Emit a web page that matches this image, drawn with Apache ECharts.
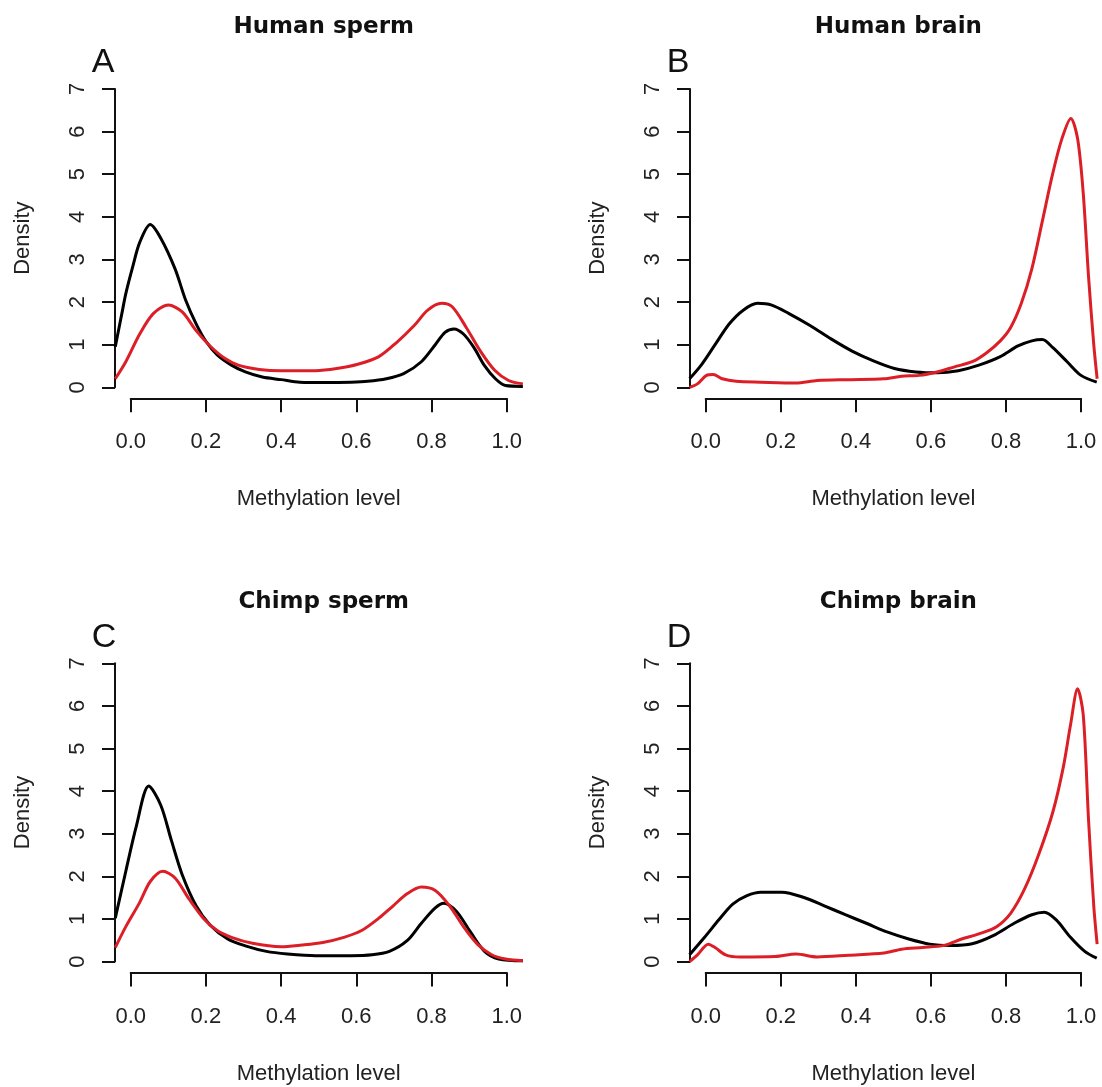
<!DOCTYPE html>
<html>
<head>
<meta charset="utf-8">
<script src="https://cdn.jsdelivr.net/npm/echarts@6/dist/echarts.min.js"></script>
<style>
html,body{margin:0;padding:0;background:#fff;}
#chart{width:1102px;height:1087px;}
</style>
</head>
<body>
<div id="chart"></div>
<script>
// ---- Data ----
const panelTitles = ['Human sperm', 'Human brain', 'Chimp sperm', 'Chimp brain'];
const panelLetters = ['A', 'B', 'C', 'D'];
const xTicks = [0, 0.2, 0.4, 0.6, 0.8, 1.0];
const yTicks = [0, 1, 2, 3, 4, 5, 6, 7];
const xDataRange = [-0.045, 1.045];

// Panel A: Human sperm
const aBlackX = [-0.041,-0.022,-0.013,0.006,0.024,0.052,0.08,0.118,0.146,0.174,0.2,0.23,0.268,0.305,0.35,0.4,0.45,0.52,0.586,0.63,0.68,0.726,0.773,0.81,0.836,0.86,0.885,0.913,0.94,0.97,0.997,1.043];
const aBlackY = [0.95,1.8,2.2,2.85,3.4,3.82,3.5,2.78,2.05,1.49,1.08,0.76,0.52,0.36,0.24,0.18,0.12,0.11,0.12,0.14,0.2,0.32,0.6,1.0,1.29,1.37,1.25,0.93,0.52,0.2,0.04,0.02];
const aRedX = [-0.041,-0.013,0.024,0.06,0.1,0.137,0.174,0.211,0.25,0.286,0.342,0.4,0.492,0.548,0.604,0.66,0.707,0.754,0.79,0.827,0.855,0.892,0.93,0.968,1.005,1.043];
const aRedY = [0.2,0.6,1.25,1.73,1.93,1.77,1.33,0.97,0.68,0.52,0.42,0.39,0.39,0.44,0.54,0.72,1.05,1.45,1.81,1.97,1.89,1.41,0.85,0.4,0.16,0.08];

// Panel B: Human brain
const bBlackX = [-0.043,-0.012,0.025,0.063,0.1,0.138,0.176,0.222,0.278,0.335,0.39,0.447,0.503,0.56,0.617,0.673,0.728,0.785,0.832,0.869,0.897,0.925,0.963,1.0,1.042];
const bBlackY = [0.2,0.52,1.0,1.49,1.81,1.97,1.93,1.73,1.45,1.13,0.85,0.62,0.44,0.36,0.34,0.39,0.52,0.72,0.97,1.09,1.12,0.93,0.6,0.28,0.12];
const bRedX = [-0.043,-0.022,0.002,0.02,0.044,0.081,0.147,0.24,0.297,0.381,0.475,0.522,0.569,0.616,0.663,0.71,0.747,0.785,0.813,0.841,0.869,0.897,0.925,0.949,0.973,0.991,1.006,1.02,1.034,1.043];
const bRedY = [0.0,0.08,0.28,0.3,0.2,0.14,0.12,0.1,0.16,0.18,0.2,0.26,0.28,0.36,0.48,0.6,0.8,1.09,1.41,1.97,2.78,3.9,5.03,5.83,6.31,5.83,4.55,2.61,1.0,0.2];

// Panel C: Chimp sperm
const cBlackX = [-0.041,-0.013,0.015,0.048,0.08,0.108,0.137,0.174,0.211,0.258,0.305,0.361,0.417,0.492,0.586,0.642,0.688,0.735,0.773,0.81,0.833,0.866,0.904,0.941,0.979,1.043];
const cBlackY = [1.02,2.12,3.18,4.12,3.67,2.85,2.04,1.31,0.86,0.53,0.37,0.24,0.18,0.14,0.14,0.16,0.24,0.49,0.9,1.26,1.37,1.18,0.69,0.24,0.06,0.02];
const cRedX = [-0.041,-0.013,0.024,0.052,0.085,0.118,0.155,0.193,0.23,0.268,0.324,0.4,0.455,0.511,0.567,0.614,0.66,0.698,0.735,0.773,0.81,0.848,0.885,0.922,0.96,0.997,1.043];
const cRedY = [0.33,0.82,1.39,1.88,2.12,1.96,1.47,1.02,0.73,0.57,0.43,0.35,0.39,0.45,0.57,0.73,1.02,1.31,1.59,1.75,1.67,1.31,0.82,0.41,0.16,0.06,0.02];

// Panel D: Chimp brain
const dBlackX = [-0.043,-0.003,0.035,0.072,0.11,0.147,0.203,0.26,0.316,0.372,0.428,0.485,0.541,0.597,0.653,0.71,0.766,0.822,0.869,0.902,0.934,0.972,1.01,1.042];
const dBlackY = [0.16,0.57,0.98,1.35,1.55,1.63,1.63,1.51,1.31,1.1,0.9,0.69,0.53,0.41,0.38,0.42,0.61,0.9,1.1,1.16,0.98,0.57,0.24,0.08];
const dRedX = [-0.043,-0.022,0.007,0.025,0.053,0.091,0.185,0.241,0.297,0.381,0.475,0.522,0.578,0.635,0.682,0.728,0.775,0.813,0.85,0.888,0.925,0.953,0.972,0.991,1.006,1.02,1.034,1.043];
const dRedY = [0.0,0.16,0.41,0.33,0.16,0.11,0.12,0.18,0.11,0.15,0.2,0.29,0.33,0.38,0.53,0.65,0.82,1.14,1.71,2.53,3.51,4.57,5.55,6.4,5.79,3.34,1.31,0.41];

const blackX = [aBlackX, bBlackX, cBlackX, dBlackX];
const blackY = [aBlackY, bBlackY, cBlackY, dBlackY];
const redX = [aRedX, bRedX, cRedX, dRedX];
const redY = [aRedY, bRedY, cRedY, dRedY];

// ---- Layout ----
const colLeft = [130.7, 705.7];   // pixel of x = 0
const colWidth = [376, 375.3];    // pixels per unit x
const rowTop = [89, 663.3];       // pixel of y = 7
const plotH = 298.3;              // pixels for 0..7
const FONT = '"Liberation Sans", Arial, sans-serif';
const RED = '#dc1f26';

function pairs(xs, ys) { return xs.map((x, i) => [x, ys[i]]); }

const grids = [], xAxes = [], yAxes = [], series = [], titles = [];
for (let p = 0; p < 4; p++) {
  const col = p % 2, row = Math.floor(p / 2);
  const L = colLeft[col], W = colWidth[col], T = rowTop[row];
  // grid 2p : axes drawn R-style (span only 0..1 and 0..7)
  grids.push({ left: L, top: T, width: W, height: plotH });
  // grid 2p+1 : data region, extended in x to hold the full density range
  grids.push({ left: L + xDataRange[0] * W, top: T, width: (xDataRange[1] - xDataRange[0]) * W, height: plotH });

  xAxes.push({
    gridIndex: 2 * p, type: 'value', min: xTicks[0], max: xTicks[xTicks.length - 1], interval: 0.2,
    offset: 11,
    axisLine: { show: true, onZero: false, lineStyle: { color: '#111', width: 2 } },
    axisTick: { show: true, length: 14, lineStyle: { color: '#111', width: 2 } },
    axisLabel: { fontSize: 22, fontFamily: FONT, color: '#222', margin: 33, formatter: v => v.toFixed(1) },
    splitLine: { show: false },
    name: 'Methylation level', nameLocation: 'middle', nameGap: 90,
    nameTextStyle: { fontSize: 22, fontFamily: FONT, color: '#222' }
  });
  yAxes.push({
    gridIndex: 2 * p, type: 'value', min: yTicks[0], max: yTicks[yTicks.length - 1], interval: 1,
    offset: 15.7,
    axisLine: { show: true, onZero: false, lineStyle: { color: '#111', width: 2 } },
    axisTick: { show: true, length: 13, lineStyle: { color: '#111', width: 2 } },
    axisLabel: { fontSize: 22, fontFamily: FONT, color: '#222', margin: 26, rotate: 90 },
    splitLine: { show: false },
    name: 'Density', nameLocation: 'middle', nameGap: 81, nameRotate: 90,
    nameTextStyle: { fontSize: 22, fontFamily: FONT, color: '#222' }
  });
  xAxes.push({ gridIndex: 2 * p + 1, type: 'value', min: xDataRange[0], max: xDataRange[1], show: false, splitLine: { show: false } });
  yAxes.push({ gridIndex: 2 * p + 1, type: 'value', min: yTicks[0], max: yTicks[yTicks.length - 1], show: false, splitLine: { show: false } });

  series.push({
    type: 'line', xAxisIndex: 2 * p + 1, yAxisIndex: 2 * p + 1, data: pairs(blackX[p], blackY[p]),
    showSymbol: false, clip: false, smooth: 0.3, lineStyle: { color: '#000', width: 3 }, z: 2
  });
  series.push({
    type: 'line', xAxisIndex: 2 * p + 1, yAxisIndex: 2 * p + 1, data: pairs(redX[p], redY[p]),
    showSymbol: false, clip: false, smooth: 0.3, lineStyle: { color: RED, width: 3 }, z: 3
  });
  titles.push({
    text: panelTitles[p], left: L + W * (xDataRange[0] + xDataRange[1]) / 2, top: T - 78,
    textAlign: 'center',
    textStyle: { fontSize: 23, fontWeight: 'bold', fontFamily: '"DejaVu Sans", sans-serif', color: '#111' }
  });
  titles.push({
    text: panelLetters[p], left: L - 44, top: T - 48,
    textStyle: { fontSize: 34, fontWeight: 'normal', fontFamily: FONT, color: '#111' }
  });
}

const chart = echarts.init(document.getElementById('chart'), null, { renderer: 'canvas' });
chart.setOption({
  animation: false,
  backgroundColor: '#fff',
  title: titles,
  grid: grids,
  xAxis: xAxes,
  yAxis: yAxes,
  series: series
});
</script>
</body>
</html>
